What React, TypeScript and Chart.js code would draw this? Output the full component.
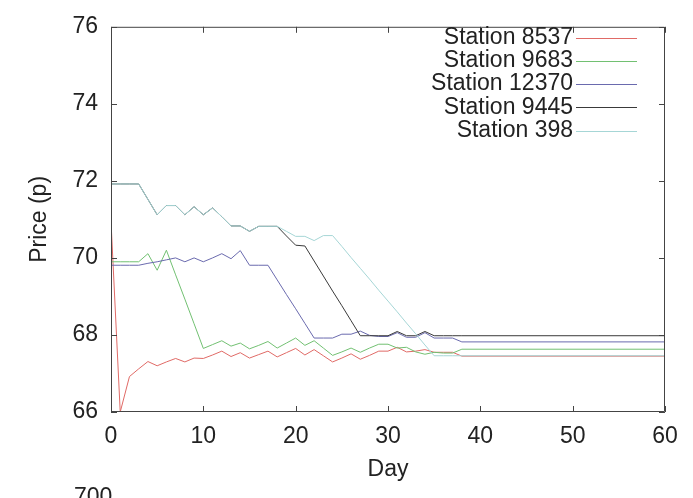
import React, { useEffect, useRef } from "react";
import { Chart, registerables } from "chart.js";

Chart.register(...registerables);

const days = [
  0, 1, 2, 3, 4, 5, 6, 7, 8, 9, 10, 11, 12, 13, 14, 15, 16, 17, 18, 19, 20,
  21, 22, 23, 24, 25, 26, 27, 28, 29, 30, 31, 32, 33, 34, 35, 36, 37, 38, 60,
];

const station8537 = [
  70.95, 66.0, 66.92, 67.12, 67.31, 67.2, 67.3, 67.39, 67.3, 67.4, 67.39,
  67.48, 67.58, 67.44, 67.54, 67.4, 67.49, 67.58, 67.43, 67.54, 67.65, 67.48,
  67.62, 67.46, 67.3, 67.4, 67.51, 67.37, 67.47, 67.58, 67.58, 67.68, 67.56,
  67.58, 67.62, 67.55, 67.55, 67.55, 67.45, 67.45,
];

const station9683 = [
  69.9, 69.9, 69.9, 69.9, 70.11, 69.68, 70.2, 69.56, 68.93, 68.29, 67.65,
  67.75, 67.85, 67.71, 67.79, 67.64, 67.73, 67.83, 67.66, 67.79, 67.92, 67.73,
  67.85, 67.66, 67.47, 67.56, 67.66, 67.55, 67.66, 67.76, 67.76, 67.66, 67.68,
  67.56, 67.5, 67.55, 67.53, 67.53, 67.63, 67.63,
];

const station12370 = [
  69.81, 69.81, 69.81, 69.81, 69.86, 69.9, 69.95, 70.0, 69.9, 70.0, 69.9,
  70.0, 70.11, 69.98, 70.19, 69.81, 69.81, 69.81, 69.43, 69.05, 68.68, 68.3,
  67.92, 67.92, 67.92, 68.02, 68.02, 68.1, 67.99, 67.96, 67.96, 68.06, 67.94,
  67.94, 68.06, 67.92, 67.92, 67.92, 67.82, 67.82,
];

const station9445 = [
  71.92, 71.92, 71.92, 71.92, 71.52, 71.12, 71.36, 71.36, 71.12, 71.33, 71.12,
  71.3, 71.07, 70.83, 70.83, 70.69, 70.82, 70.82, 70.82, 70.57, 70.33, 70.31,
  69.92, 69.53, 69.14, 68.76, 68.37, 67.98, 67.98, 67.98, 67.98, 68.09, 67.98,
  67.98, 68.09, 67.98, 67.98, 67.98, 67.98, 67.98,
];

const station398 = [
  71.92, 71.92, 71.92, 71.92, 71.52, 71.12, 71.36, 71.36, 71.12, 71.33, 71.12,
  71.3, 71.07, 70.83, 70.83, 70.69, 70.82, 70.82, 70.82, 70.69, 70.56, 70.56,
  70.45, 70.58, 70.58, 70.3, 70.01, 69.73, 69.45, 69.16, 68.88, 68.6, 68.31,
  68.03, 67.74, 67.46, 67.46, 67.46, 67.46, 67.46,
];

const seriesNames = [
  "Station 8537",
  "Station 9683",
  "Station 12370",
  "Station 9445",
  "Station 398",
];
const seriesValues = [station8537, station9683, station12370, station9445, station398];
const seriesColors = ["#e06a66", "#72c072", "#6a6aae", "#3a3a3a", "#a6d6d6"];

const xTicks = [0, 10, 20, 30, 40, 50, 60];
const yTicks = [66, 68, 70, 72, 74, 76];
const xTitle = "Day";
const yTitle = "Price (p)";
const cutLabel = "700";

const FONT = '"Liberation Sans", Arial, sans-serif';
const FSIZE = 23;

const framePlugin = {
  id: "framePlugin",
  afterDraw(chart: any) {
    const { ctx, chartArea } = chart;
    const xs = chart.scales.x;
    const ys = chart.scales.y;
    const { left, right, top, bottom } = chartArea;
    ctx.save();
    ctx.strokeStyle = "#444";
    ctx.lineWidth = 1;
    ctx.beginPath();
    ctx.rect(left + 0.5, top + 0.5, right - left - 1, bottom - top - 1);
    ctx.stroke();
    const tl = 6;
    ctx.beginPath();
    xTicks.forEach((v) => {
      const px = Math.round(xs.getPixelForValue(v)) + 0.5;
      ctx.moveTo(px, bottom);
      ctx.lineTo(px, bottom - tl);
      ctx.moveTo(px, top);
      ctx.lineTo(px, top + tl);
    });
    yTicks.forEach((v) => {
      const py = Math.round(ys.getPixelForValue(v)) + 0.5;
      ctx.moveTo(left, py);
      ctx.lineTo(left + tl, py);
      ctx.moveTo(right, py);
      ctx.lineTo(right - tl, py);
    });
    ctx.stroke();

    // titles
    ctx.fillStyle = "#222";
    ctx.font = `${FSIZE}px ${FONT}`;
    ctx.textAlign = "center";
    ctx.textBaseline = "middle";
    ctx.fillText(xTitle, (left + right) / 2, 470);
    ctx.save();
    ctx.translate(40, (top + bottom) / 2);
    ctx.rotate(-Math.PI / 2);
    ctx.fillText(yTitle, 0, 0);
    ctx.restore();

    // cut-off label of the next chart
    ctx.textAlign = "left";
    ctx.fillText(cutLabel, 74, 498);

    // legend
    const legendRight = 573;
    const sampleStart = 576;
    const sampleEnd = 637;
    ctx.textAlign = "right";
    chart.data.datasets.forEach((ds: any, i: number) => {
      const y = 37.5 + i * 23.3;
      ctx.fillStyle = "#222";
      ctx.fillText(ds.label, legendRight, y);
      ctx.strokeStyle = ds.borderColor;
      ctx.beginPath();
      ctx.moveTo(sampleStart, Math.round(y) + 0.5);
      ctx.lineTo(sampleEnd, Math.round(y) + 0.5);
      ctx.stroke();
    });
    ctx.restore();
  },
};

export default function App() {
  const ref = useRef<HTMLCanvasElement | null>(null);
  useEffect(() => {
    document.body.style.margin = "0";
    const canvas = ref.current;
    if (!canvas) return;
    const datasets = seriesNames.map((name, i) => ({
      label: name,
      data: days.map((d, j) => ({ x: d, y: seriesValues[i][j] })),
      borderColor: seriesColors[i],
      backgroundColor: seriesColors[i],
      borderWidth: 1,
      pointRadius: 0,
      tension: 0,
      fill: false,
      order: seriesNames.length - i,
    }));
    const chart = new Chart(canvas, {
      type: "line",
      data: { datasets },
      options: {
        animation: false,
        responsive: false,
        maintainAspectRatio: false,
        layout: { padding: { top: 20, right: 28, left: 0, bottom: 0 } },
        plugins: {
          legend: { display: false },
          tooltip: { enabled: false },
          title: { display: false },
        },
        scales: {
          x: {
            type: "linear",
            min: 0,
            max: 60,
            afterBuildTicks: (s: any) => {
              s.ticks = xTicks.map((v) => ({ value: v }));
            },
            afterFit: (s: any) => {
              s.height = 86;
            },
            grid: { display: false, drawTicks: false },
            border: { display: false },
            ticks: {
              color: "#222",
              font: { family: FONT, size: FSIZE },
              padding: 11,
              maxRotation: 0,
              autoSkip: false,
            },
          },
          y: {
            type: "linear",
            min: 66,
            max: 76,
            afterBuildTicks: (s: any) => {
              s.ticks = yTicks.map((v) => ({ value: v }));
            },
            afterFit: (s: any) => {
              s.width = 111;
            },
            grid: { display: false, drawTicks: false },
            border: { display: false },
            ticks: {
              color: "#222",
              font: { family: FONT, size: FSIZE },
              padding: 13,
              autoSkip: false,
            },
          },
        },
      },
      plugins: [framePlugin],
    });
    return () => chart.destroy();
  }, []);
  return (
    <div style={{ width: 693, height: 498, background: "#fff" }}>
      <canvas ref={ref} width={693} height={498} style={{ display: "block" }} />
    </div>
  );
}
